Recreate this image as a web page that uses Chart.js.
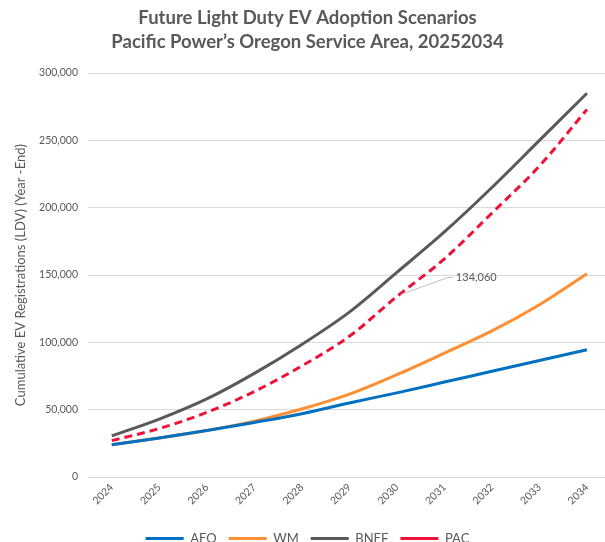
<!DOCTYPE html>
<html>
<head>
<meta charset="utf-8">
<script src="https://cdn.jsdelivr.net/npm/chart.js@4"></script>
<style>
  html, body { margin: 0; padding: 0; background: #fff; }
  #wrap { width: 605px; height: 542px; }
</style>
</head>
<body>
<div id="wrap"><canvas id="evChart"></canvas></div>
<script>
// Data
const years = [2024, 2025, 2026, 2027, 2028, 2029, 2030, 2031, 2032, 2033, 2034];
const aeo  = [24000, 29000, 34500, 40500, 47000, 55000, 62500, 70500, 78500, 86500, 94500];
const wm   = [24000, 29000, 34500, 41500, 50500, 61500, 76000, 92000, 108500, 128000, 151000];
const bnef = [30500, 43000, 58000, 77000, 98500, 122500, 152000, 182000, 215000, 250000, 285000];
const pac  = [27000, 36000, 48000, 63500, 82500, 104500, 134060, 162000, 196000, 231000, 273000];
const yTicks = [0, 50000, 100000, 150000, 200000, 250000, 300000];
const calloutIndex = 6;

const textGray = '#595959';

// leader line + label for the 2030 PAC value
const calloutPlugin = {
    id: 'callout',
    afterDatasetsDraw(chart) {
        const pt = chart.getDatasetMeta(3).data[calloutIndex];
        if (!pt) return;
        const ctx = chart.ctx;
        ctx.save();
        ctx.strokeStyle = '#bfbfbf';
        ctx.lineWidth = 1;
        ctx.beginPath();
        ctx.moveTo(pt.x + 4, pt.y - 2);
        ctx.lineTo(pt.x + 51, pt.y - 19);
        ctx.lineTo(pt.x + 56, pt.y - 19);
        ctx.stroke();
        ctx.fillStyle = textGray;
        ctx.font = '11px Lato';
        ctx.textBaseline = 'middle';
        ctx.fillText(pac[calloutIndex].toLocaleString('en-US'), pt.x + 59, pt.y - 19);
        ctx.restore();
    }
};

function series(label, data, color, dash) {
    return {
        label: label,
        data: data,
        borderColor: color,
        backgroundColor: color,
        borderWidth: 3,
        borderDash: dash || [],
        pointRadius: 0,
        pointStyle: 'line',
        cubicInterpolationMode: 'monotone',
        fill: false
    };
}

new Chart(document.getElementById('evChart'), {
    type: 'line',
    data: {
        labels: years,
        datasets: [
            series('AEO', aeo, '#0070C0'),
            series('WM', wm, '#FF8F33'),
            series('BNEF', bnef, '#595959'),
            series('PAC', pac, '#EE1238', [8, 5])
        ]
    },
    plugins: [calloutPlugin],
    options: {
        responsive: true,
        maintainAspectRatio: false,
        animation: false,
        layout: { padding: { left: 10, right: 0, top: 0, bottom: -13 } },
        plugins: {
            title: {
                display: true,
                text: ['Future Light Duty EV Adoption Scenarios', 'Pacific Power\u2019s Oregon Service Area, 20252034'],
                color: textGray,
                font: { family: 'Lato', size: 18.5, weight: 'bold', lineHeight: 1.3 },
                padding: { top: 6, bottom: 19 }
            },
            legend: {
                position: 'bottom',
                labels: {
                    usePointStyle: true,
                    pointStyle: 'line',
                    pointStyleWidth: 38,
                    color: textGray,
                    font: { family: 'Lato', size: 13 },
                    padding: 12
                }
            },
            tooltip: { enabled: false }
        },
        scales: {
            x: {
                type: 'linear',
                min: 2023.5,
                max: 2034.38,
                afterFit: s => { s.height = 43; },
                grid: { display: false, drawTicks: false },
                border: { display: false },
                ticks: {
                    stepSize: 1,
                    includeBounds: false,
                    autoSkip: false,
                    maxRotation: 45,
                    minRotation: 45,
                    padding: 4,
                    color: textGray,
                    font: { family: 'Lato', size: 10.5 },
                    callback: v => String(v)
                }
            },
            y: {
                min: 0,
                max: 300000,
                afterFit: s => { s.width = 78; },
                afterBuildTicks: s => { s.ticks = yTicks.map(v => ({ value: v })); },
                grid: { color: '#d9d9d9', lineWidth: 1, drawTicks: false },
                border: { display: false },
                title: {
                    display: true,
                    text: 'Cumulative EV Registrations (LDV) (Year -End)',
                    color: textGray,
                    font: { family: 'Lato', size: 13 },
                    padding: { top: 3, bottom: 0 }
                },
                ticks: {
                    padding: 10,
                    color: textGray,
                    font: { family: 'Lato', size: 10.5 },
                    callback: v => v.toLocaleString('en-US')
                }
            }
        }
    }
});
</script>
</body>
</html>
